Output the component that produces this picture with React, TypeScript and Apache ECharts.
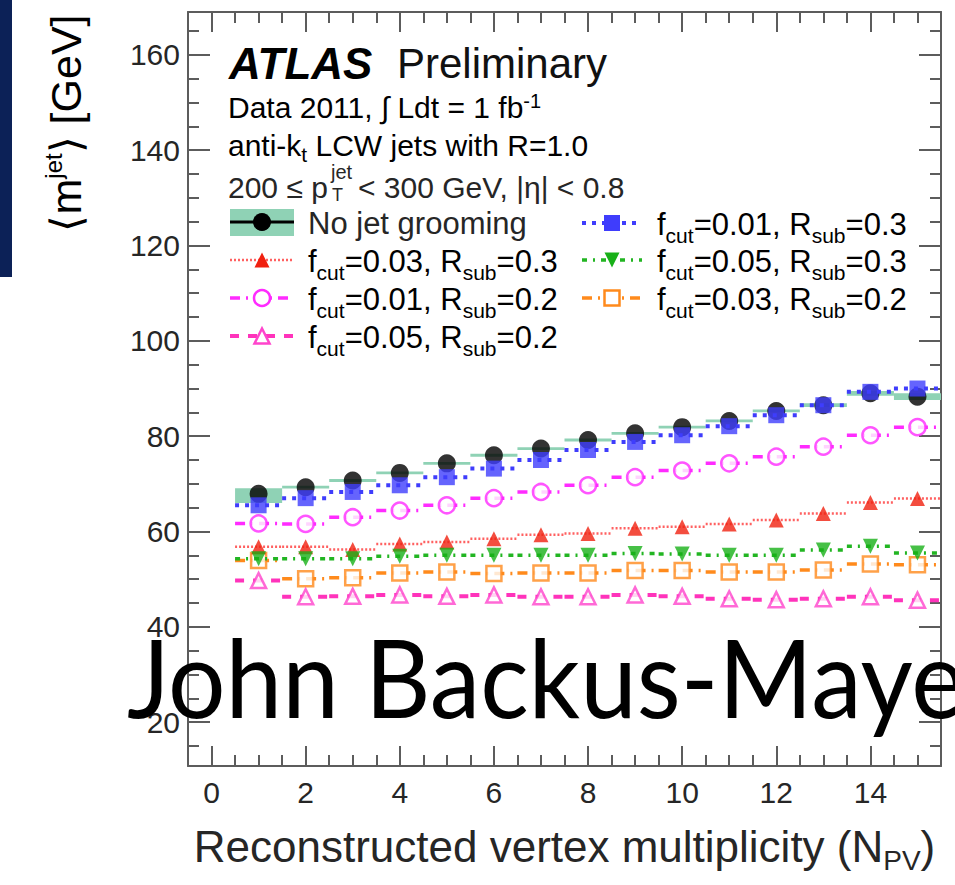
import React, { useEffect, useRef } from "react";
import * as echarts from "echarts";

// ---------- data ----------
const npv = [1, 2, 3, 4, 5, 6, 7, 8, 9, 10, 11, 12, 13, 14, 15];
const noGrooming = [67.9, 69.3, 70.7, 72.3, 74.3, 76.0, 77.4, 79.2, 80.6, 81.9, 83.2, 85.3, 86.5, 89.0, 88.3];
const bandLow = [66.0, 69.0, 70.4, 72.0, 74.0, 75.7, 77.1, 78.9, 80.3, 81.6, 82.9, 85.0, 86.1, 88.5, 87.6];
const bandHigh = [69.1, 69.6, 71.0, 72.6, 74.6, 76.3, 77.7, 79.5, 80.9, 82.2, 83.5, 85.6, 86.9, 89.5, 89.0];
const fcut001Rsub03 = [65.5, 67.0, 68.3, 69.7, 71.4, 73.2, 75.0, 77.1, 78.8, 80.2, 82.1, 84.4, 86.5, 89.3, 90.0];
const fcut003Rsub03 = [56.8, 56.8, 56.2, 57.4, 57.8, 58.5, 59.3, 59.6, 60.7, 61.0, 61.6, 62.4, 63.8, 66.1, 66.9];
const fcut005Rsub03 = [54.3, 54.3, 54.3, 54.8, 55.0, 55.0, 55.0, 55.0, 55.4, 55.3, 55.0, 55.0, 56.1, 56.9, 55.5];
const fcut001Rsub02 = [61.7, 61.6, 63.0, 64.4, 65.5, 67.0, 68.3, 69.7, 71.4, 72.8, 74.3, 75.7, 77.8, 80.2, 81.9];
const fcut003Rsub02 = [53.9, 50.1, 50.3, 51.3, 51.5, 51.2, 51.3, 51.3, 51.8, 51.8, 51.5, 51.5, 51.9, 53.2, 53.0];
const fcut005Rsub02 = [49.7, 46.3, 46.4, 46.7, 46.4, 46.7, 46.3, 46.3, 46.7, 46.4, 45.9, 45.7, 45.9, 46.3, 45.6];

const xTickLabels = [0, 2, 4, 6, 8, 10, 12, 14];
const yTickLabels = [20, 40, 60, 80, 100, 120, 140, 160];

const X_MIN = -0.5;
const X_MAX = 15.5;
const Y_MIN = 10.8;
const Y_MAX = 169;

const FONT = "'Liberation Sans', Arial, Helvetica, sans-serif";
const FRAME = "#5c5c5c";
const TXT = "#262626";

type Kind = "circle" | "rect" | "tri" | "dtri" | "ocircle" | "orect" | "otri";

interface SeriesDef {
  key: string;
  fcut: string;
  rsub: string;
  values: number[];
  color: string;
  lineColor: string;
  dash: number[];
  lw: number;
  kind: Kind;
  size: number;
}

const groomed: SeriesDef[] = [
  { key: "f3r2", fcut: "0.03", rsub: "0.2", values: fcut003Rsub02, color: "#ff8a1c", lineColor: "#ff8a1c", dash: [10, 6, 2, 6], lw: 3.5, kind: "orect", size: 15 },
  { key: "f5r2", fcut: "0.05", rsub: "0.2", values: fcut005Rsub02, color: "#ff44cc", lineColor: "#ff33bb", dash: [9, 9], lw: 4, kind: "otri", size: 15 },
  { key: "f1r2", fcut: "0.01", rsub: "0.2", values: fcut001Rsub02, color: "#ff2bff", lineColor: "#ff2bff", dash: [10, 6, 2, 6], lw: 3.5, kind: "ocircle", size: 16 },
  { key: "f3r3", fcut: "0.03", rsub: "0.3", values: fcut003Rsub03, color: "#f0200f", lineColor: "#ff6060", dash: [2, 2], lw: 2.5, kind: "tri", size: 15 },
  { key: "f5r3", fcut: "0.05", rsub: "0.3", values: fcut005Rsub03, color: "#18b018", lineColor: "#22b522", dash: [5, 6, 2, 6], lw: 3.5, kind: "dtri", size: 15 },
  { key: "f1r3", fcut: "0.01", rsub: "0.3", values: fcut001Rsub03, color: "#3f3dfc", lineColor: "#3f3dfc", dash: [4, 6], lw: 4, kind: "rect", size: 16 },
];

function symbolOf(kind: Kind): string {
  if (kind === "circle" || kind === "ocircle") return "circle";
  if (kind === "rect" || kind === "orect") return "rect";
  return "triangle";
}

function legendMarker(kind: Kind, cx: number, cy: number, color: string, size: number): any {
  const h = size / 2;
  const hollow = kind === "ocircle" || kind === "orect" || kind === "otri";
  const style = hollow ? { fill: "#fff", stroke: color, lineWidth: 2.5 } : { fill: color };
  if (kind === "circle" || kind === "ocircle") return { type: "circle", shape: { cx, cy, r: h }, style, z: 20 };
  if (kind === "rect" || kind === "orect") return { type: "rect", shape: { x: cx - h, y: cy - h, width: size, height: size }, style, z: 20 };
  if (kind === "dtri")
    return { type: "polygon", shape: { points: [[cx - h, cy - h], [cx + h, cy - h], [cx, cy + h]] }, style, z: 20 };
  return { type: "polygon", shape: { points: [[cx, cy - h], [cx + h, cy + h], [cx - h, cy + h]] }, style, z: 20 };
}

const richMain = { fontSize: 31, fontFamily: FONT, color: TXT, lineHeight: 44, verticalAlign: "middle" };
const richSub = { fontSize: 21, fontFamily: FONT, color: TXT, lineHeight: 21, verticalAlign: "bottom" };
const richSup = { fontSize: 20, fontFamily: FONT, color: TXT, lineHeight: 20, verticalAlign: "top" };

function legendText(fcut: string, rsub: string): string {
  return `{m|f}{s|cut}{m|=${fcut}, R}{s|sub}{m|=${rsub}}`;
}

export default function App() {
  const ref = useRef<HTMLDivElement>(null);

  useEffect(() => {
    document.body.style.margin = "0";
    if (!ref.current) return;
    const chart = echarts.init(ref.current, undefined, { renderer: "svg" });

    const xMinor: number[] = [];
    for (let v = 0; v <= 15.5; v += 0.5) if (v % 2 !== 0) xMinor.push(v);
    const yMinor: number[] = [];
    for (let v = 15; v <= 165; v += 5) if (v % 20 !== 0) yMinor.push(v);

    const hiddenLabel = { show: false };
    const mkX = (position: string, major: boolean, withLine: boolean, main: boolean): any => ({
      type: "value",
      gridIndex: 0,
      min: X_MIN,
      max: X_MAX,
      position,
      axisLine: { show: withLine, onZero: false, lineStyle: { color: FRAME, width: 2 } },
      axisTick: {
        show: true,
        inside: true,
        length: major ? 20 : 11,
        customValues: major ? xTickLabels : xMinor,
        lineStyle: { color: FRAME, width: 2 },
      },
      axisLabel: main
        ? { show: true, customValues: xTickLabels, margin: 11, fontSize: 30, fontFamily: FONT, color: TXT }
        : hiddenLabel,
      splitLine: { show: false },
      ...(main
        ? {
            name: "{a|Reconstructed vertex multiplicity (N}{s|PV}{a|)}",
            nameLocation: "middle",
            nameGap: 52,
            nameTextStyle: {
              rich: {
                a: { fontSize: 44, fontFamily: FONT, color: TXT, lineHeight: 56, verticalAlign: "middle" },
                s: { fontSize: 28, fontFamily: FONT, color: TXT, lineHeight: 27, verticalAlign: "bottom" },
              },
            },
          }
        : {}),
    });
    const mkY = (position: string, major: boolean, withLine: boolean, main: boolean): any => ({
      type: "value",
      gridIndex: 0,
      min: Y_MIN,
      max: Y_MAX,
      position,
      axisLine: { show: withLine, onZero: false, lineStyle: { color: FRAME, width: 2 } },
      axisTick: {
        show: true,
        inside: true,
        length: major ? 22 : 11,
        customValues: major ? yTickLabels : yMinor,
        lineStyle: { color: FRAME, width: 2 },
      },
      axisLabel: main
        ? { show: true, customValues: yTickLabels, margin: 8, fontSize: 30, fontFamily: FONT, color: TXT }
        : hiddenLabel,
      splitLine: { show: false },
    });

    const seriesData = (vals: number[]) => npv.map((x, i) => [x, vals[i]]);

    const series: any[] = [];
    // uncertainty band of the ungroomed jets
    series.push({
      type: "custom",
      name: "band",
      xAxisIndex: 0,
      yAxisIndex: 0,
      data: npv.map((x, i) => [x, bandLow[i], bandHigh[i]]),
      encode: { x: 0, y: [1, 2] },
      z: 1,
      renderItem: (params: any, api: any) => {
        const x = api.value(0);
        const p1 = api.coord([x - 0.5, api.value(2)]);
        const p2 = api.coord([x + 0.5, api.value(1)]);
        return {
          type: "rect",
          shape: { x: p1[0], y: p1[1], width: p2[0] - p1[0], height: Math.max(2, p2[1] - p1[1]) },
          style: { fill: "#8fd2b5" },
        };
      },
    });
    series.push({
      type: "scatter",
      name: "No jet grooming",
      xAxisIndex: 0,
      yAxisIndex: 0,
      data: seriesData(noGrooming),
      symbol: "circle",
      symbolSize: 18,
      itemStyle: { color: "#000" },
      z: 3,
    });
    groomed.forEach((s, idx) => {
      series.push({
        type: "custom",
        name: s.key + "-bars",
        xAxisIndex: 0,
        yAxisIndex: 0,
        data: seriesData(s.values),
        encode: { x: 0, y: 1 },
        z: 4 + idx * 2,
        renderItem: (params: any, api: any) => {
          const x = api.value(0);
          const v = api.value(1);
          const p1 = api.coord([x - 0.5, v]);
          const p2 = api.coord([x + 0.5, v]);
          return {
            type: "line",
            shape: { x1: p1[0], y1: p1[1], x2: p2[0], y2: p2[1] },
            style: { stroke: s.lineColor, lineWidth: s.lw, lineDash: s.dash, fill: null },
          };
        },
      });
      const hollow = s.kind === "ocircle" || s.kind === "orect" || s.kind === "otri";
      series.push({
        type: "scatter",
        name: `f_cut=${s.fcut}, R_sub=${s.rsub}`,
        xAxisIndex: 0,
        yAxisIndex: 0,
        data: seriesData(s.values),
        symbol: symbolOf(s.kind),
        symbolSize: s.size,
        symbolRotate: s.kind === "dtri" ? 180 : 0,
        itemStyle: hollow
          ? { color: "#fff", borderColor: s.color, borderWidth: 2.5 }
          : { color: s.color, borderWidth: 0 },
        z: 5 + idx * 2,
      });
    });

    // ---------- legend / annotations (graphic) ----------
    const g: any[] = [];
    g.push({ type: "rect", shape: { x: 0, y: 0, width: 12, height: 277 }, style: { fill: "#0c2157" }, z: 1 });
    // y axis title
    g.push({
      type: "text",
      x: 66,
      y: 123,
      rotation: Math.PI / 2,
      style: {
        text: "{m|⟨m}{p|jet}{m|⟩ [GeV]}",
        align: "center",
        verticalAlign: "middle",
        rich: {
          m: { fontSize: 43, fontFamily: FONT, color: TXT, lineHeight: 50, verticalAlign: "middle" },
          p: { fontSize: 24, fontFamily: FONT, color: TXT, lineHeight: 24, verticalAlign: "top" },
        },
      },
      z: 10,
    });
    // header
    g.push({
      type: "text",
      x: 229,
      y: 63,
      style: { text: "ATLAS", fontSize: 44, fontWeight: "bold", fontStyle: "italic", fontFamily: FONT, fill: "#000", align: "left", verticalAlign: "middle", lineHeight: 40 },
      z: 10,
    });
    g.push({
      type: "text",
      x: 397,
      y: 63,
      style: { text: "Preliminary", fontSize: 42, fontFamily: FONT, fill: "#111", align: "left", verticalAlign: "middle", lineHeight: 38 },
      z: 10,
    });
    g.push({
      type: "text",
      x: 228,
      y: 107,
      style: {
        text: "{m|Data 2011, ∫ Ldt = 1 fb}{p|-1}",
        align: "left",
        verticalAlign: "middle",
        rich: { m: { ...richMain, fontSize: 30, lineHeight: 32 }, p: { ...richSup, lineHeight: 16 } },
      },
      z: 10,
    });
    g.push({
      type: "text",
      x: 228,
      y: 145,
      style: {
        text: "{m|anti-k}{s|t}{m| LCW jets with R=1.0}",
        align: "left",
        verticalAlign: "middle",
        rich: { m: { ...richMain, fontSize: 30, lineHeight: 40 }, s: { ...richSub, lineHeight: 19 } },
      },
      z: 10,
    });
    g.push({
      type: "text",
      x: 228,
      y: 187,
      style: { text: "200 ≤ p", fontSize: 30, fontFamily: FONT, fill: TXT, align: "left", verticalAlign: "middle", lineHeight: 28 },
      z: 10,
    });
    g.push({
      type: "text",
      x: 331,
      y: 172,
      style: { text: "jet", fontSize: 20, fontFamily: FONT, fill: TXT, align: "left", verticalAlign: "middle", lineHeight: 14 },
      z: 10,
    });
    g.push({
      type: "text",
      x: 332,
      y: 195,
      style: { text: "T", fontSize: 18, fontFamily: FONT, fill: TXT, align: "left", verticalAlign: "middle", lineHeight: 10 },
      z: 10,
    });
    g.push({
      type: "text",
      x: 358,
      y: 187,
      style: { text: "< 300 GeV, |η| < 0.8", fontSize: 30, fontFamily: FONT, fill: TXT, align: "left", verticalAlign: "middle", lineHeight: 28 },
      z: 10,
    });

    // legend: left column
    const leftX1 = 230, leftX2 = 294, leftMid = 262, leftText = 308;
    const rightX1 = 582, rightX2 = 642, rightMid = 612, rightText = 657;
    const rows = [222, 259, 297, 335];
    // No jet grooming
    g.push({ type: "rect", shape: { x: leftX1, y: rows[0] - 13, width: leftX2 - leftX1, height: 27 }, style: { fill: "#8fd2b5" }, z: 10 });
    g.push({ type: "line", shape: { x1: leftX1, y1: rows[0], x2: leftX2, y2: rows[0] }, style: { stroke: "#000", lineWidth: 3 }, z: 11 });
    g.push({ type: "circle", shape: { cx: leftMid, cy: rows[0], r: 9 }, style: { fill: "#000" }, z: 12 });
    g.push({
      type: "text",
      x: leftText,
      y: rows[0] + 1,
      style: { text: "No jet grooming", fontSize: 31, fontFamily: FONT, fill: TXT, align: "left", verticalAlign: "middle", lineHeight: 24 },
      z: 10,
    });
    const legendLayout: { key: string; col: number; row: number }[] = [
      { key: "f1r3", col: 1, row: 0 },
      { key: "f3r3", col: 0, row: 1 },
      { key: "f5r3", col: 1, row: 1 },
      { key: "f1r2", col: 0, row: 2 },
      { key: "f3r2", col: 1, row: 2 },
      { key: "f5r2", col: 0, row: 3 },
    ];
    legendLayout.forEach((l) => {
      const s = groomed.find((d) => d.key === l.key)!;
      const x1 = l.col === 0 ? leftX1 : rightX1;
      const x2 = l.col === 0 ? leftX2 : rightX2;
      const mid = l.col === 0 ? leftMid : rightMid;
      const tx = l.col === 0 ? leftText : rightText;
      const cy = rows[l.row] + 1;
      g.push({ type: "line", shape: { x1, y1: cy, x2, y2: cy }, style: { stroke: s.lineColor, lineWidth: s.lw, lineDash: s.dash }, z: 10 });
      g.push(legendMarker(s.kind, mid, cy, s.color, s.size));
      g.push({
        type: "text",
        x: tx,
        y: rows[l.row] + 2,
        style: {
          text: legendText(s.fcut, s.rsub),
          align: "left",
          verticalAlign: "middle",
          rich: { m: richMain, s: richSub },
        },
        z: 10,
      });
    });

    // overlay name
    g.push({
      type: "text",
      x: 127,
      y: 676,
      scaleX: 0.94,
      style: { text: "John Backus-Mayes", fontSize: 108, fontFamily: "Lato, 'Open Sans', sans-serif", fill: "#000", align: "left", verticalAlign: "middle" },
      z: 100,
    });

    chart.setOption({
      animation: false,
      backgroundColor: "#ffffff",
      grid: { left: 188, top: 12, width: 753, height: 754, containLabel: false, show: false },
      xAxis: [mkX("bottom", true, true, true), mkX("bottom", false, false, false), mkX("top", true, true, false), mkX("top", false, false, false)],
      yAxis: [mkY("left", true, true, true), mkY("left", false, false, false), mkY("right", true, true, false), mkY("right", false, false, false)],
      series,
      graphic: g,
    });

    return () => chart.dispose();
  }, []);

  return <div ref={ref} style={{ width: 955, height: 885 }} />;
}
